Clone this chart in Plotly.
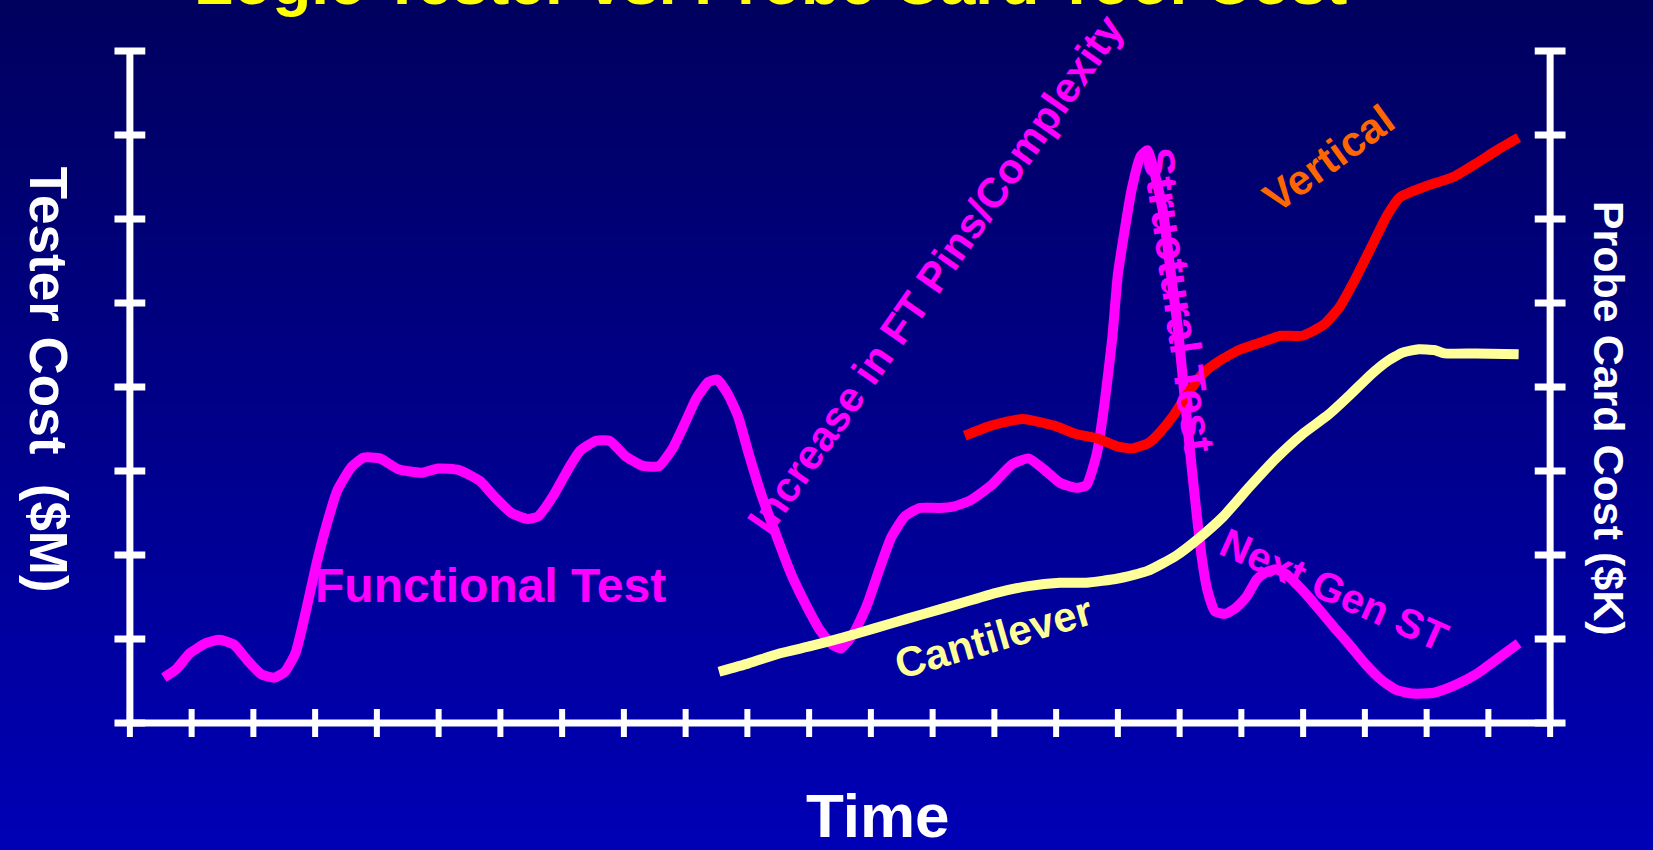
import plotly.graph_objects as go

# ---------------- data (arbitrary units: time 0-23, cost 0-8) ----------------
tester_x = [0.55, 0.75, 0.97, 1.23, 1.45, 1.69, 1.91, 2.13, 2.34, 2.51, 2.68, 2.85, 3.02, 3.19, 3.36,
            3.59, 3.79, 4.05, 4.35, 4.73, 4.99, 5.33, 5.67, 5.92, 6.18, 6.44, 6.61, 6.86, 7.12, 7.29,
            7.55, 7.77, 8.02, 8.31, 8.57, 8.79, 9.00, 9.17, 9.37, 9.51, 9.68, 9.85, 10.02, 10.23, 10.45,
            10.71, 10.96, 11.18, 11.38, 11.52, 11.73, 11.93, 12.11, 12.33, 12.55, 12.79, 13.10, 13.35,
            13.61, 13.95, 14.29, 14.55, 14.80, 15.06, 15.32, 15.49, 15.66, 15.79, 15.91, 16.00, 16.12,
            16.22, 16.37, 16.48, 16.60, 16.73, 16.85, 16.97, 17.07, 17.19, 17.28, 17.36, 17.45, 17.57,
            17.74, 17.91, 18.08, 18.25, 18.39, 18.56, 18.73, 18.99, 19.24, 19.50, 19.75, 20.01, 20.27,
            20.52, 20.78, 21.12, 21.46, 21.80, 22.14, 22.49]
tester_y = [0.54, 0.64, 0.83, 0.95, 0.99, 0.93, 0.74, 0.58, 0.54, 0.61, 0.83, 1.33, 1.89, 2.37, 2.77,
            3.05, 3.16, 3.15, 3.02, 2.98, 3.03, 3.01, 2.88, 2.68, 2.50, 2.43, 2.46, 2.71, 3.05, 3.24,
            3.36, 3.36, 3.18, 3.06, 3.06, 3.27, 3.59, 3.86, 4.06, 4.09, 3.92, 3.65, 3.21, 2.71, 2.27,
            1.77, 1.39, 1.10, 0.93, 0.89, 1.08, 1.39, 1.77, 2.21, 2.46, 2.56, 2.56, 2.58,
            2.65, 2.83, 3.08, 3.15, 3.02, 2.86, 2.80, 2.83, 3.21, 3.84, 4.59, 5.34, 5.91,
            6.34, 6.75, 6.82, 6.53, 6.09, 5.40, 4.71, 3.96, 3.08, 2.46, 1.96, 1.58, 1.33,
            1.30, 1.37, 1.50, 1.71, 1.79, 1.83, 1.77, 1.58, 1.37, 1.14, 0.93, 0.70, 0.51,
            0.39, 0.35, 0.36, 0.45, 0.58, 0.76, 0.95]

vertical_x = [13.52, 13.95, 14.46, 14.97, 15.32, 15.66, 16.00, 16.25, 16.51, 16.68, 16.89, 17.11, 17.36,
              17.62, 17.96, 18.39, 18.64, 18.99, 19.33, 19.58, 19.84, 20.10, 20.35, 20.57, 20.95, 21.46,
              21.80, 22.14, 22.49]
vertical_y = [3.42, 3.54, 3.62, 3.54, 3.44, 3.39, 3.29, 3.27, 3.34, 3.46, 3.65, 3.90, 4.15,
              4.30, 4.44, 4.55, 4.61, 4.61, 4.74, 4.94, 5.28, 5.66, 6.03, 6.26, 6.38, 6.51,
              6.66, 6.82, 6.97]

cantilever_x = [9.54, 10.02, 10.53, 11.05, 11.56, 12.07, 12.58, 13.10, 13.52, 14.03, 14.55, 15.06, 15.49,
                16.00, 16.48, 16.94, 17.33, 17.71, 18.13, 18.56, 18.99, 19.41, 19.75, 20.10, 20.35,
                20.61, 20.87, 21.12, 21.29, 21.80, 22.49]
cantilever_y = [0.61, 0.71, 0.83, 0.92, 1.02, 1.13, 1.24, 1.35, 1.44, 1.55, 1.63, 1.67, 1.67,
                1.72, 1.81, 1.99, 2.21, 2.46, 2.81, 3.15, 3.44, 3.67, 3.90, 4.15, 4.30,
                4.41, 4.45, 4.44, 4.40, 4.40, 4.39]

x_ticks = list(range(0, 24))
y_ticks = list(range(0, 9))
x_min, x_max = 0, 23
y_min, y_max = 0, 8

title_text = "Logic Tester vs. Probe Card Tool Cost"
x_title = "Time"
y_title = "Tester Cost  ($M)"
y2_title = "Probe Card Cost ($K)"

# (text, x, y, angle, colour, size)
labels = [
    ("Functional Test", 5.84, 1.64, 0, "#FF00FF", 48),
    ("Cantilever", 13.98, 1.02, -16, "#FFFF99", 42),
    ("Increase in FT Pins/Complexity", 13.04, 5.34, -55, "#FF00FF", 42),
    ("Vertical", 19.41, 6.72, -36, "#FF6600", 42),
    ("Structural Test", 16.99, 5.03, 82, "#FF00FF", 44),
    ("Next Gen ST", 19.5, 1.58, 24, "#FF00FF", 41),
]

FONT = "Liberation Sans, Arial, sans-serif"
W, H = 1653, 850

fig = go.Figure()

# curves
LW = 10
fig.add_trace(go.Scatter(x=tester_x, y=tester_y, mode="lines", hoverinfo="skip",
                         line=dict(color="#FF00FF", width=LW, shape="spline", smoothing=0.5)))
fig.add_trace(go.Scatter(x=vertical_x, y=vertical_y, mode="lines", hoverinfo="skip",
                         line=dict(color="#FF0000", width=LW, shape="spline", smoothing=0.5)))
fig.add_trace(go.Scatter(x=cantilever_x, y=cantilever_y, mode="lines", hoverinfo="skip",
                         line=dict(color="#FFFF99", width=LW, shape="spline", smoothing=0.5)))

# axis frame lines (in data coords)
frame = dict(color="white", width=7)
fig.add_shape(type="line", xref="x", yref="y", x0=x_min, x1=x_min, y0=y_min, y1=y_max, line=frame)
fig.add_shape(type="line", xref="x", yref="y", x0=x_max, x1=x_max, y0=y_min, y1=y_max, line=frame)
fig.add_shape(type="line", xref="x", yref="y", x0=x_min, x1=x_max, y0=y_min, y1=y_min, line=frame)

# tick marks crossing the axes
tick_marker_ew = dict(symbol="line-ew", size=22, line=dict(color="white", width=7))
tick_marker_ns = dict(symbol="line-ns", size=20, line=dict(color="white", width=6))
fig.add_trace(go.Scatter(x=[x_min] * len(y_ticks), y=y_ticks, mode="markers", hoverinfo="skip",
                         marker=tick_marker_ew, cliponaxis=False))
fig.add_trace(go.Scatter(x=[x_max] * len(y_ticks), y=y_ticks, mode="markers", hoverinfo="skip",
                         marker=tick_marker_ew, cliponaxis=False))
fig.add_trace(go.Scatter(x=x_ticks, y=[y_min] * len(x_ticks), mode="markers", hoverinfo="skip",
                         marker=tick_marker_ns, cliponaxis=False))

# text labels on the chart
for text, x, y, ang, col, sz in labels:
    fig.add_annotation(x=x, y=y, xref="x", yref="y", text="<b>%s</b>" % text, showarrow=False,
                       xanchor="center", yanchor="middle",
                       textangle=ang, font=dict(family=FONT, size=sz, color=col))

# titles
def paper_note(text, x, y, size, color, angle=0):
    fig.add_annotation(x=x, y=y, xref="paper", yref="paper", text="<b>%s</b>" % text,
                       showarrow=False, xanchor="center", yanchor="middle", textangle=angle,
                       font=dict(family=FONT, size=size, color=color))

paper_note(title_text, 0.4528, 1.0672, 64, "#FFFF00")
paper_note(x_title, 0.5256, -0.1008, 62, "white")
paper_note(y_title, -0.0335, 0.5098, 53, "white", 90)
paper_note(y2_title, 1.019, 0.4566, 43, "white", 90)

# background gradient (navy at top to blue at bottom), full-figure bands
n_bands = 120
ml, mr, mt, mb = 99.13, 72.13, 30, 106
pw, ph = W - ml - mr, H - mt - mb
top_c, bot_c = (0, 0, 94), (0, 0, 182)
for i in range(n_bands):
    f0 = i / n_bands
    f1 = (i + 1) / n_bands
    py0 = f0 * H
    py1 = f1 * H + 1
    fm = (f0 + f1) / 2
    c = tuple(round(top_c[k] + (bot_c[k] - top_c[k]) * fm) for k in range(3))
    fig.add_shape(type="rect", xref="paper", yref="paper", layer="below",
                  x0=-ml / pw - 0.01, x1=1 + mr / pw + 0.01,
                  y0=1 - (py1 - mt) / ph, y1=1 - (py0 - mt) / ph,
                  line=dict(width=0), fillcolor="rgb(%d,%d,%d)" % c)

fig.update_layout(
    width=W, height=H,
    margin=dict(l=ml, r=mr, t=mt, b=mb),
    paper_bgcolor="#00007A", plot_bgcolor="rgba(0,0,0,0)",
    showlegend=False,
    hovermode=False,
    xaxis=dict(range=[-0.5, 23.5], visible=False, fixedrange=True),
    yaxis=dict(range=[-0.25, 8.25], visible=False, fixedrange=True),
)

fig.write_html("out.html", config={"displayModeBar": False},
               post_script="document.body.style.margin='0';document.body.style.overflow='hidden';")
